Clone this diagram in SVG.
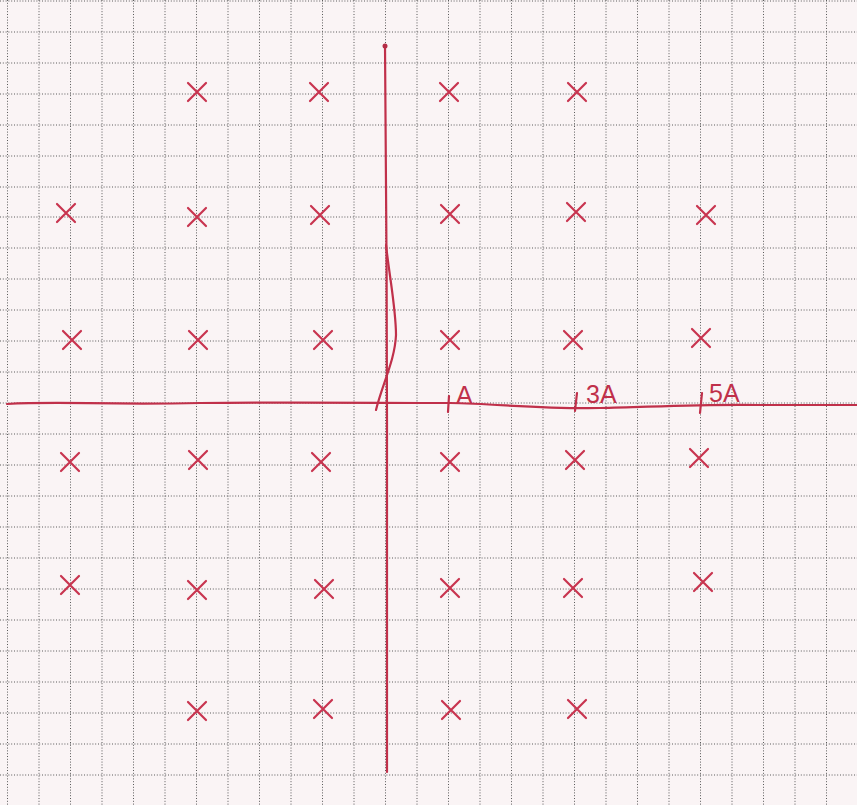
<svg xmlns="http://www.w3.org/2000/svg" width="857" height="805" viewBox="0 0 857 805">
<defs>
<style>
.g{stroke:#5a5a5a;stroke-width:1;stroke-dasharray:1 1.8;fill:none}
.ax{stroke:#c0304a;stroke-width:2.2;fill:none;stroke-linecap:round}
.mk{stroke:#c8344f;stroke-width:2.2;fill:none;stroke-linecap:round}
.lb{fill:#c0304a;font-family:"Liberation Sans",Arial,sans-serif;font-size:25px}
</style>
<path id="x" d="M-9,-9 L9,9 M9,-9 L-9,9"/>
</defs>
<rect width="857" height="805" fill="#faf4f5"/>
<g id="grid">
<path class="g" d="M7.5,0V805M39,0V805M70.5,0V805M102,0V805M133.5,0V805M165,0V805M196.5,0V805M228,0V805M259.5,0V805M291,0V805M322.5,0V805M354,0V805M385.5,0V805M417,0V805M448.5,0V805M480,0V805M511.5,0V805M543,0V805M574.5,0V805M606,0V805M637.5,0V805M669,0V805M700.5,0V805M732,0V805M763.5,0V805M795,0V805M826.5,0V805"/>
<path class="g" d="M0,1H857M0,32H857M0,63H857M0,94H857M0,125H857M0,156H857M0,187H857M0,217H857M0,248H857M0,279H857M0,310H857M0,341H857M0,372H857M0,403H857M0,434H857M0,465H857M0,496H857M0,527H857M0,558H857M0,589H857M0,620H857M0,651H857M0,682H857M0,713H857M0,744H857M0,775H857"/>
</g>
<g id="axes">
<path class="ax" d="M7,404 C60,401 100,405 200,403 C300,402 380,403 450,403 C500,404 540,409 600,408 C650,407 700,404 760,405 L857,405" stroke="#b42c46" stroke-width="2.5"/>
<path class="ax" d="M385,45 C386,150 387,300 387,420 C387,550 387,680 387,772"/>
<circle cx="385" cy="46" r="2.5" fill="#b42c46"/>
<path class="ax" d="M386,245 C390,280 396,310 396,335 C395,360 382,385 376,410" stroke-width="1.6"/>
</g>
<g id="ticks">
<path class="ax" d="M449,396 L448,412" stroke-width="3"/>
<path class="ax" d="M577,393 L575,411"/>
<path class="ax" d="M702,393 L700,413"/>
</g>
<g id="labels">
<text class="lb" x="456" y="404">A</text>
<text class="lb" x="586" y="403">3A</text>
<text class="lb" x="709" y="402">5A</text>
</g>
<g id="points">
<g id="p1"><use href="#x" class="mk" x="197" y="92"/></g>
<g id="p2"><use href="#x" class="mk" x="319" y="92"/></g>
<g id="p3"><use href="#x" class="mk" x="449" y="92"/></g>
<g id="p4"><use href="#x" class="mk" x="577" y="92"/></g>
<g id="p5"><use href="#x" class="mk" x="66" y="213"/></g>
<g id="p6"><use href="#x" class="mk" x="197" y="217"/></g>
<g id="p7"><use href="#x" class="mk" x="320" y="215"/></g>
<g id="p8"><use href="#x" class="mk" x="450" y="214"/></g>
<g id="p9"><use href="#x" class="mk" x="576" y="212"/></g>
<g id="p10"><use href="#x" class="mk" x="706" y="215"/></g>
<g id="p11"><use href="#x" class="mk" x="72" y="340"/></g>
<g id="p12"><use href="#x" class="mk" x="198" y="340"/></g>
<g id="p13"><use href="#x" class="mk" x="323" y="340"/></g>
<g id="p14"><use href="#x" class="mk" x="450" y="340"/></g>
<g id="p15"><use href="#x" class="mk" x="573" y="340"/></g>
<g id="p16"><use href="#x" class="mk" x="701" y="338"/></g>
<g id="p17"><use href="#x" class="mk" x="70" y="462"/></g>
<g id="p18"><use href="#x" class="mk" x="198" y="460"/></g>
<g id="p19"><use href="#x" class="mk" x="321" y="462"/></g>
<g id="p20"><use href="#x" class="mk" x="450" y="462"/></g>
<g id="p21"><use href="#x" class="mk" x="575" y="460"/></g>
<g id="p22"><use href="#x" class="mk" x="699" y="458"/></g>
<g id="p23"><use href="#x" class="mk" x="70" y="585"/></g>
<g id="p24"><use href="#x" class="mk" x="197" y="590"/></g>
<g id="p25"><use href="#x" class="mk" x="324" y="589"/></g>
<g id="p26"><use href="#x" class="mk" x="450" y="588"/></g>
<g id="p27"><use href="#x" class="mk" x="573" y="588"/></g>
<g id="p28"><use href="#x" class="mk" x="703" y="582"/></g>
<g id="p29"><use href="#x" class="mk" x="197" y="711"/></g>
<g id="p30"><use href="#x" class="mk" x="323" y="709"/></g>
<g id="p31"><use href="#x" class="mk" x="451" y="710"/></g>
<g id="p32"><use href="#x" class="mk" x="577" y="709"/></g>
</g>
</svg>
